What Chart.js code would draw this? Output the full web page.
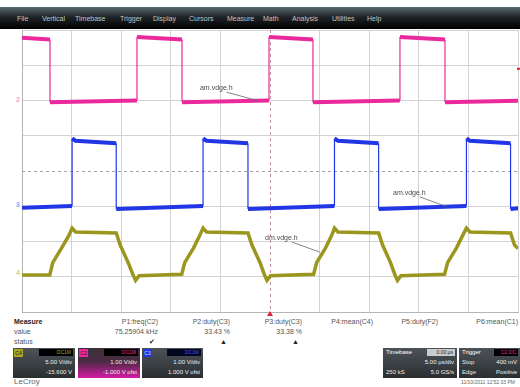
<!DOCTYPE html>
<html>
<head>
<meta charset="UTF-8">
<title>LeCroy C2 / C3 / C4</title>
<script src="https://cdn.jsdelivr.net/npm/chart.js"></script>
<style>
  body { margin: 0; background: #fff; font-family: "Liberation Sans", Arial, sans-serif; }
  #scope { position: relative; width: 520px; height: 387px; overflow: hidden; background: #fff; }
  #menu { position: absolute; left: 0; top: 7px; width: 520px; height: 22px;
          background: linear-gradient(#5a6a70 0%, #1e2428 45%, #000 100%); }
  #menu span { position: absolute; top: 8px; font-size: 7px; line-height: 7px; color: #c4c4c4; }
  #plot { position: absolute; left: 8px; top: 28px; }
  .t { position: absolute; font-size: 7px; line-height: 8px; color: #555; white-space: nowrap; text-align: right; }
  .box { position: absolute; top: 348px; height: 30px; background: linear-gradient(#4c5358, #2a2e31); color: #fff; }
  .box .sq { position: absolute; left: 1px; top: 1px; width: 9px; height: 8px; font-size: 5px; line-height: 8px; text-align: center; color: #222; }
  .box .hd { position: absolute; right: 2px; top: 1px; height: 7px; background: #000; font-size: 5px; line-height: 7px; text-align: right; padding-right: 2px; }
  .box .ln { position: absolute; right: 3px; font-size: 6px; line-height: 7px; color: #f0f0f0; white-space: nowrap; }
  .box .lt { position: absolute; left: 3px; font-size: 6px; line-height: 7px; color: #e8e8e8; white-space: nowrap; }
</style>
</head>
<body>
<div id="scope">
  <div id="menu">
    <span style="left:17px">File</span>
    <span style="left:42px">Vertical</span>
    <span style="left:75px">Timebase</span>
    <span style="left:120px">Trigger</span>
    <span style="left:153px">Display</span>
    <span style="left:189px">Cursors</span>
    <span style="left:227px">Measure</span>
    <span style="left:263px">Math</span>
    <span style="left:292px">Analysis</span>
    <span style="left:332px">Utilities</span>
    <span style="left:367px">Help</span>
  </div>

  <canvas id="plot" width="512" height="290"></canvas>

  <div id="measure"></div>

  <!-- channel descriptor boxes -->
  <div class="box" style="left:13px;width:62px">
    <div class="sq" style="background:#a9a526">C4</div>
    <div class="hd" style="width:32px;color:#a9a526">DC1M</div>
    <div class="ln" style="top:11px">5.00 V/div</div>
    <div class="ln" style="top:21px">-15.600 V</div>
  </div>
  <div class="box" style="left:78px;width:62px;background:linear-gradient(#3c3238 0%, #4a2a44 45%, #d61aa6 100%)">
    <div class="sq" style="background:#ea2a9c">C2</div>
    <div class="hd" style="width:32px;color:#ea2a9c">DC1M</div>
    <div class="ln" style="top:11px">1.00 V/div</div>
    <div class="ln" style="top:21px">-1.000 V ofst</div>
  </div>
  <div class="box" style="left:142px;width:61px">
    <div class="sq" style="background:#2438e0;color:#ddd">C3</div>
    <div class="hd" style="width:32px;background:#04061e;color:#3a52ff">DC1M</div>
    <div class="ln" style="top:11px">1.00 V/div</div>
    <div class="ln" style="top:21px">1.000 V ofst</div>
  </div>

  <div class="box" style="left:383px;width:74px">
    <div class="lt" style="top:1px;color:#fff">Timebase</div>
    <div class="hd" style="width:26px;background:#c9cccd;color:#222">0.00 µs</div>
    <div class="ln" style="top:11px">5.00 µs/div</div>
    <div class="lt" style="top:21px">250 kS</div>
    <div class="ln" style="top:21px">5.0 GS/s</div>
  </div>
  <div class="box" style="left:459px;width:61px">
    <div class="lt" style="top:1px;color:#fff">Trigger</div>
    <div class="hd" style="width:22px;color:#ea2a9c">C2 DC</div>
    <div class="lt" style="top:11px">Stop</div>
    <div class="ln" style="top:11px">400 mV</div>
    <div class="lt" style="top:21px">Edge</div>
    <div class="ln" style="top:21px">Positive</div>
  </div>

  <div class="t" style="left:14px;top:377px;font-size:8px;line-height:10px;color:#666;text-align:left">LeCroy</div>
  <div class="t" style="right:5px;top:379px;font-size:5px;line-height:6px;color:#666">11/10/2011 12:52:33 PM</div>
</div>

<script>
// time in µs (5 µs/div, trigger at 0), amplitude in screen divisions
const pinkTimes  = [-25, -22.18, -22.18, -13.41, -13.41, -8.87, -8.87, -0.1, -0.1, 4.33, 4.33, 13.1, 13.1, 17.64, 17.64, 25];
const pinkLevels = [3.78, 3.73, 1.95, 2.0, 3.8, 3.73, 1.95, 2.0, 3.8, 3.73, 1.95, 2.0, 3.8, 3.73, 1.95, 1.99];

const blueTimes  = [-25, -19.95, -19.95, -19.6, -15.5, -15.5, -6.75, -6.75, -6.4, -2.22, -2.22, 6.5, 6.5, 6.85, 10.95, 10.95, 19.8, 19.8, 20.15, 24.25, 24.25, 25];
const blueLevels = [-1.04, -0.99, 0.92, 0.86, 0.79, -1.08, -0.99, 0.92, 0.86, 0.79, -1.08, -0.99, 0.92, 0.86, 0.79, -1.08, -0.99, 0.92, 0.86, 0.79, -1.08, -1.06];

const oliveTimes = [-25, -22.2, -21.9, -21.0, -20.3, -19.95, -19.6, -15.5, -15.1, -14.3, -13.8, -13.55, -13.2,
                    -8.9, -8.6, -7.7, -7.1, -6.75, -6.4, -2.22, -1.82, -1.0, -0.55, -0.3, 0.05,
                    4.4, 4.7, 5.6, 6.2, 6.5, 6.85, 10.95, 11.35, 12.15, 12.6, 12.85, 13.2,
                    17.6, 17.9, 18.8, 19.4, 19.8, 20.15, 24.25, 24.65, 25];
const oliveLevels = [-2.95, -2.95, -2.6, -2.18, -1.84, -1.62, -1.73, -1.76, -2.1, -2.6, -2.95, -3.1, -2.97,
                     -2.93, -2.6, -2.18, -1.84, -1.62, -1.73, -1.76, -2.1, -2.6, -2.95, -3.1, -2.97,
                     -2.93, -2.6, -2.18, -1.84, -1.62, -1.73, -1.76, -2.1, -2.6, -2.95, -3.1, -2.97,
                     -2.93, -2.6, -2.18, -1.84, -1.62, -1.73, -1.76, -2.1, -2.2];

const channelNames   = ['2', '3', '4'];
const channelOffsets = [2.0, -0.96, -2.9];
const triggerTime  = 0;
const triggerLevel = 2.9;

const measureNames  = ['P1:freq(C2)', 'P2:duty(C3)', 'P3:duty(C3)', 'P4:mean(C4)', 'P5:duty(F2)', 'P6:mean(C1)'];
const measureValues = ['75.25904 kHz', '33.43 %', '33.38 %', '', '', ''];
const measureStatus = ['✔', '▲', '▲', '', '', ''];

const pink = '#ea2a9c', blue = '#2236e6', olive = '#9a961e';

// measurement table under the grid
const measureRight = [158, 230, 302, 373, 438, 518];
const meas = document.getElementById('measure');
function addText(txt, left, right, top, css) {
  const d = document.createElement('div');
  d.className = 't';
  d.textContent = txt;
  if (left !== null) { d.style.left = left + 'px'; d.style.textAlign = 'left'; }
  if (right !== null) d.style.right = (520 - right) + 'px';
  d.style.top = top + 'px';
  if (css) d.style.cssText += css;
  meas.appendChild(d);
}
addText('Measure', 14, null, 318, 'font-weight:bold;color:#222');
addText('value', 14, null, 328);
addText('status', 14, null, 338);
measureNames.forEach((n, i) => {
  addText(n, null, measureRight[i], 318);
  if (measureValues[i]) addText(measureValues[i], null, measureRight[i], 328);
  if (measureStatus[i]) addText(measureStatus[i], null, measureRight[i] - 3, 338, 'color:#222');
});

function toPoints(ts, vs) { return ts.map((t, i) => ({ x: t, y: vs[i] })); }

// thin vertical edges, thick noisy levels
const edgeWidth = (thick) => ctx =>
  Math.abs(ctx.p0.parsed.x - ctx.p1.parsed.x) < 1e-6 ? 1.2 : thick;

const labels = [
  { text: 'am.vdge.h', x: -7.06, y: 2.35, tx: -1.2, ty: 1.99 },
  { text: 'am.vdge.h', x: 12.4, y: -0.62, tx: 17.9, ty: -1.02 },
  { text: 'dm.vdge.h', x: -0.5, y: -1.9, tx: 5.0, ty: -2.3 }
];

const scopeDecor = {
  id: 'scopeDecor',
  beforeDatasetsDraw(chart) {
    const { ctx, chartArea: a, scales: { x, y } } = chart;
    ctx.save();
    ctx.lineWidth = 1;
    ctx.setLineDash([3, 3]);
    ctx.strokeStyle = '#a4a4a4';
    const cy = Math.round(y.getPixelForValue(0)) + 0.5;
    ctx.beginPath(); ctx.moveTo(a.left, cy); ctx.lineTo(a.right, cy); ctx.stroke();
    const cx = Math.round(x.getPixelForValue(triggerTime)) + 0.5;
    ctx.strokeStyle = '#c4909e';
    ctx.beginPath(); ctx.moveTo(cx, a.top); ctx.lineTo(cx, a.bottom); ctx.stroke();
    ctx.restore();
  },
  afterDatasetsDraw(chart) {
    const { ctx, chartArea: a, scales: { x, y } } = chart;
    ctx.save();
    // annotation labels with leader lines
    ctx.font = '7px "Liberation Sans", Arial, sans-serif';
    ctx.textBaseline = 'middle';
    labels.forEach(l => {
      const px = x.getPixelForValue(l.x), py = y.getPixelForValue(l.y);
      ctx.fillStyle = '#4a4a4a';
      ctx.fillText(l.text, px, py);
      const w = ctx.measureText(l.text).width;
      ctx.strokeStyle = '#666';
      ctx.lineWidth = 0.8;
      ctx.beginPath();
      ctx.moveTo(px + w - 6, py + 4);
      ctx.lineTo(x.getPixelForValue(l.tx), y.getPixelForValue(l.ty));
      ctx.stroke();
    });
    // channel offset markers on the left edge
    const markColors = ['#f3a0cf', '#8e9af2', '#cfcc8a'];
    ctx.font = 'bold 7px "Liberation Sans", Arial, sans-serif';
    ctx.textAlign = 'right';
    channelOffsets.forEach((v, i) => {
      ctx.fillStyle = markColors[i];
      ctx.fillText(channelNames[i], a.left - 2, y.getPixelForValue(v));
    });
    // trigger position and level
    const cx = x.getPixelForValue(triggerTime);
    ctx.fillStyle = '#e0203a';
    ctx.beginPath();
    ctx.moveTo(cx, a.bottom - 1);
    ctx.lineTo(cx - 3, a.bottom + 4);
    ctx.lineTo(cx + 3, a.bottom + 4);
    ctx.closePath();
    ctx.fill();
    const ly = y.getPixelForValue(triggerLevel);
    ctx.fillRect(a.right - 1, ly - 1, 3, 2);
    ctx.restore();
  }
};

new Chart(document.getElementById('plot'), {
  type: 'line',
  data: {
    datasets: [
      { data: toPoints(oliveTimes, oliveLevels), borderColor: olive, borderWidth: 3.5,
        segment: { borderWidth: edgeWidth(3.5) } },
      { data: toPoints(blueTimes, blueLevels), borderColor: blue, borderWidth: 4,
        segment: { borderWidth: edgeWidth(4) } },
      { data: toPoints(pinkTimes, pinkLevels), borderColor: pink, borderWidth: 4,
        segment: { borderWidth: edgeWidth(4) } }
    ]
  },
  options: {
    responsive: false,
    animation: false,
    parsing: false,
    layout: { padding: { left: 14, right: 2, top: 2, bottom: 6 } },
    elements: { point: { radius: 0 }, line: { tension: 0, borderJoinStyle: 'miter' } },
    plugins: { legend: { display: false }, tooltip: { enabled: false } },
    scales: {
      x: {
        type: 'linear', min: -25, max: 25,
        ticks: { display: false, stepSize: 5 },
        grid: { drawTicks: false, color: c => c.tick && c.tick.value === 0 ? 'rgba(0,0,0,0)' : '#d2d2d2' },
        border: { color: '#b4b4b4' }
      },
      y: {
        type: 'linear', min: -4, max: 4,
        ticks: { display: false, stepSize: 1 },
        grid: { drawTicks: false, color: c => c.tick && c.tick.value === 0 ? 'rgba(0,0,0,0)' : '#d2d2d2' },
        border: { color: '#b4b4b4' }
      }
    }
  },
  plugins: [scopeDecor]
});
</script>
</body>
</html>
